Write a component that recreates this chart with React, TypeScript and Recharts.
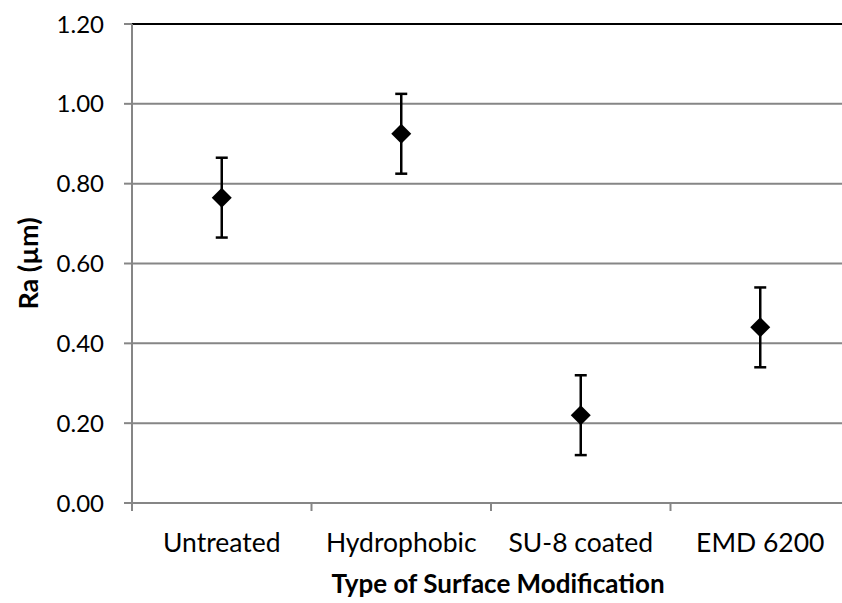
import { ComposedChart, Scatter, ErrorBar, XAxis, YAxis, CartesianGrid, ReferenceLine, Label } from "recharts"

const categories = ["Untreated", "Hydrophobic", "SU-8 coated", "EMD 6200"]
const raValues = [0.765, 0.925, 0.22, 0.44]
const raErrors = [0.1, 0.1, 0.1, 0.1]
const yTicks = [0, 0.2, 0.4, 0.6, 0.8, 1.0, 1.2]

// points sit in the middle of each category band (numeric axis so the ticks can sit on band edges)
const data = categories.map((name, i) => ({ pos: i + 0.5, name, ra: raValues[i], err: raErrors[i] }))
const xTicks = [0, 0.5, 1, 1.5, 2, 2.5, 3, 3.5, 4]

const FONT = "Lato, 'Open Sans', sans-serif"
const AXIS_GREY = "#868686"

const Diamond = (props: any) => {
  const { cx, cy } = props
  const r = 10
  return <polygon points={`${cx},${cy - r} ${cx + r},${cy} ${cx},${cy + r} ${cx - r},${cy}`} fill="#000" />
}

const XTick = (props: any) => {
  const { x, y, payload } = props
  const v = payload.value
  if (Number.isInteger(v)) {
    return <line x1={x} x2={x} y1={y} y2={y + 8} stroke={AXIS_GREY} strokeWidth={2} />
  }
  const idx = Math.floor(v)
  return (
    <text x={x} y={y + 49} textAnchor="middle" fontFamily={FONT} fontSize={26.5} fill="#000">
      {categories[idx]}
    </text>
  )
}

export default function App() {
  return (
    <div style={{ position: "fixed", left: 0, top: 0, width: 842, height: 603, overflow: "hidden", background: "#fff" }}>
      <ComposedChart width={850} height={603} data={data} margin={{ top: 24, right: 0, bottom: 0, left: 0 }}>
        <CartesianGrid horizontal vertical={false} stroke={AXIS_GREY} strokeWidth={2} />
        <XAxis
          dataKey="pos"
          type="number"
          domain={[0, 4]}
          ticks={xTicks}
          interval={0}
          height={100}
          tickSize={0}
          tickMargin={0}
          tickLine={false}
          axisLine={{ stroke: AXIS_GREY, strokeWidth: 2 }}
          tick={<XTick />}
        >
          <Label
            value="Type of Surface Modification"
            position="center"
            dx={7}
            dy={31}
            style={{ fontFamily: FONT, fontSize: 26, fontWeight: 700, fill: "#000" }}
          />
        </XAxis>
        <YAxis
          type="number"
          domain={[0, 1.2]}
          ticks={yTicks}
          interval={0}
          width={132}
          tickSize={8}
          tickMargin={20}
          tickFormatter={(v: number) => v.toFixed(2)}
          tick={{ fontFamily: FONT, fontSize: 24, fill: "#000" }}
          tickLine={{ stroke: AXIS_GREY, strokeWidth: 2 }}
          axisLine={{ stroke: AXIS_GREY, strokeWidth: 2 }}
        >
          <Label
            value="Ra (µm)"
            angle={-90}
            position="center"
            dx={-38}
            style={{ fontFamily: FONT, fontSize: 27, fontWeight: 700, fill: "#000", textAnchor: "middle" }}
          />
        </YAxis>
        <ReferenceLine y={1.2} stroke="#000" strokeWidth={2} />
        <Scatter dataKey="ra" fill="#000" shape={<Diamond />} isAnimationActive={false}>
          <ErrorBar dataKey="err" direction="y" width={6} stroke="#000" strokeWidth={2.5} />
        </Scatter>
      </ComposedChart>
    </div>
  )
}
